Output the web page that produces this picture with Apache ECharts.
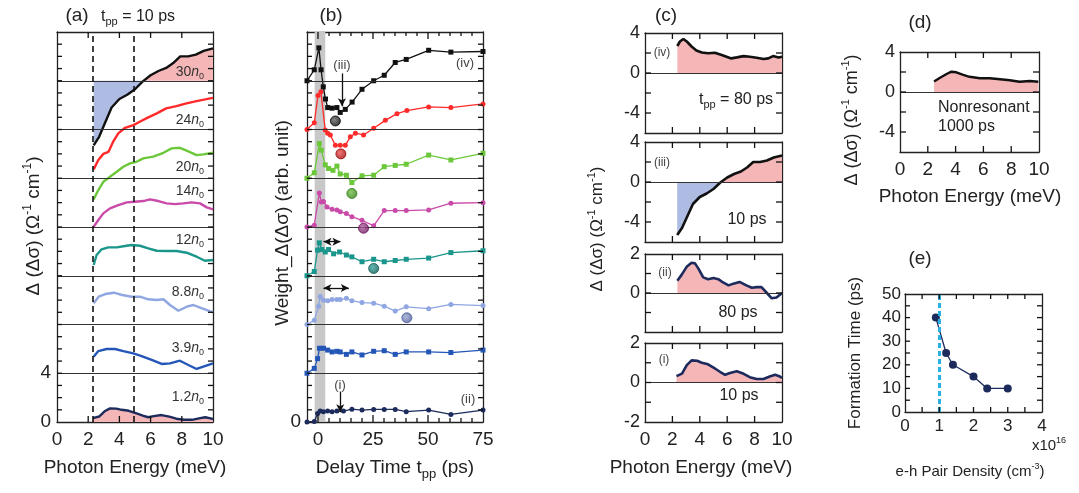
<!DOCTYPE html>
<html><head><meta charset="utf-8">
<script src="https://cdn.jsdelivr.net/npm/echarts@6/dist/echarts.min.js"></script>
<style>html,body{margin:0;padding:0;background:#fff}#c{width:1079px;height:493px}</style>
</head><body><div id="c"></div>
<script>
// ---------- DATA ----------
const spec_30n0_10ps = [[2.35,-5.3],[2.7,-4.6],[3.0,-3.7],[3.5,-2.2],[4.0,-1.5],[4.5,-1.15],[5.0,-0.7],[5.5,-0.05],[6.0,0.45],[6.5,0.8],[7.0,1.05],[7.45,1.45],[7.9,2.0],[8.4,2.0],[8.9,2.15],[9.4,2.45],[10,2.65]];
const spec_24n0_10ps = [[2.35,-3.27],[2.65,-2.5],[2.97,-2.0],[3.3,-1.83],[3.6,-1.0],[3.93,-0.32],[4.36,0.14],[4.9,0.36],[5.3,0.64],[5.85,1.0],[6.4,1.32],[7.0,1.73],[7.65,1.92],[8.3,2.14],[8.95,2.33],[9.5,2.47],[10,2.6]];
const spec_20n0_10ps = [[2.35,-1.73],[2.65,-0.97],[2.97,-0.29],[3.4,0.12],[3.83,0.53],[4.25,0.94],[4.68,1.22],[5.1,1.35],[5.53,1.63],[6.17,1.77],[6.82,2.09],[7.35,2.45],[7.88,2.5],[8.31,2.26],[8.95,1.9],[9.38,1.96],[10,2.09]];
const spec_14n0_10ps = [[2.35,0.02],[2.65,0.57],[2.97,1.12],[3.4,1.53],[3.93,1.8],[4.47,2.02],[5.0,2.07],[5.53,2.13],[5.96,2.27],[6.5,2.13],[7.03,1.94],[7.57,1.88],[8.1,1.94],[8.63,2.02],[9.17,1.94],[9.6,1.61],[10,1.45]];
const spec_12n0_10ps = [[2.35,0.88],[2.54,1.7],[2.86,2.17],[3.29,2.33],[3.83,2.33],[4.36,2.44],[4.79,2.52],[5.32,2.46],[5.85,2.25],[6.39,2.05],[7.03,2.03],[7.67,2.03],[8.31,1.89],[8.95,1.56],[9.48,1.23],[10,1.29]];
const spec_8p8n0_10ps = [[2.35,1.74],[2.67,2.28],[3.1,2.5],[3.64,2.61],[4.18,2.42],[4.79,2.28],[5.32,2.28],[5.85,2.07],[6.39,2.01],[6.82,2.07],[7.24,1.6],[7.78,1.13],[8.31,1.46],[8.74,1.6],[9.17,1.38],[9.7,1.13],[10,1.0]];
const spec_3p9n0_10ps = [[2.35,1.36],[2.65,1.82],[3.18,1.99],[3.72,1.99],[4.25,1.82],[4.89,1.63],[5.42,1.41],[6.07,1.09],[6.71,0.76],[7.24,0.81],[7.88,1.03],[8.42,0.68],[8.95,0.35],[9.38,0.54],[10,0.81]];
const spec_1p2n0_10ps = [[2.3,0.32],[2.7,0.45],[3.05,0.88],[3.4,1.12],[3.8,1.1],[4.15,1.0],[4.6,0.92],[5.1,0.71],[5.5,0.53],[5.85,0.39],[6.2,0.48],[6.7,0.57],[7.2,0.44],[7.65,0.27],[8.15,0.18],[8.65,0.18],[9.1,0.3],[9.5,0.39],[9.85,0.3],[10,0.23]];
const densityLabels = ['1.2','3.9','8.8','12','14','20','24','30'];

const spec_30n0_80ps = [[2.36,2.7],[2.55,3.15],[2.8,3.4],[3.05,3.15],[3.4,2.65],[3.75,2.25],[4.15,2.05],[4.6,1.97],[5.1,2.03],[5.6,1.8],[5.95,1.63],[6.3,1.46],[6.7,1.56],[7.2,1.69],[7.65,1.63],[8.15,1.53],[8.65,1.4],[9.0,1.46],[9.35,1.69],[9.75,1.56],[10,1.63]];
const spec_1p2n0_80ps = [[2.36,0.63],[2.67,0.93],[3.04,1.34],[3.4,1.55],[3.65,1.52],[3.9,1.25],[4.25,0.8],[4.6,0.71],[5.0,0.77],[5.35,0.71],[5.7,0.54],[6.1,0.39],[6.45,0.48],[6.9,0.57],[7.4,0.39],[7.8,0.27],[8.15,0.3],[8.5,0.3],[8.9,0.0],[9.25,-0.27],[9.6,-0.23],[10,0.0]];
const spec_nonres_1000ps = [[2.45,1.05],[2.85,1.4],[3.35,1.8],[3.7,2.03],[4.05,1.97],[4.55,1.72],[5.0,1.52],[5.75,1.38],[6.45,1.38],[7.2,1.28],[7.9,1.17],[8.6,1.03],[9.35,1.1],[9.95,1.03]];

const weight_30n0 = [[-5,0],[-1.7,0.9],[0.4,2.7],[1.4,0.9],[2.4,-0.5],[3.4,-1.5],[4.4,-2.2],[6.4,-2.25],[8.6,-2.2],[10.1,-2.6],[12.4,-2.35],[15.5,-1.75],[20,-0.7],[25.3,0],[30.1,0.45],[35.1,1.5],[40.1,1.75],[50.3,2.5],[60.4,2.35],[75,2.4]];
const weight_24n0 = [[-5,0],[-1.7,0.55],[0,2.8],[1.3,3.1],[3.3,-0.05],[4.4,-0.3],[5.6,-0.45],[7.9,-1.3],[10.1,-1.3],[12.4,-1.3],[14.7,-0.6],[17,-0.3],[20.7,-0.45],[25.3,0.1],[30.6,0.75],[35.9,1.3],[40.4,1.55],[50.3,1.85],[60.4,1.8],[75,2.1]];
const weight_20n0 = [[-5,0],[-1.7,0.45],[0.6,2.85],[1.5,2.3],[3.3,1.1],[4.8,0.8],[6.8,0.65],[8.6,1.0],[10.1,0.35],[12.9,0.25],[15.4,-0.35],[20,0.2],[25.3,0.25],[30.1,0.95],[35.1,1.05],[40.1,1.15],[50.3,1.9],[60.4,1.5],[75,2.05]];
const weight_14n0 = [[-5,0],[-1.7,0.15],[0.6,2.8],[1.5,2.05],[2.5,2.1],[4.1,1.65],[6.4,1.45],[8.6,1.4],[10.1,1.25],[12.9,1.1],[15.4,0.85],[20,0.55],[25.3,0.1],[30.1,1.35],[35.1,1.35],[40.1,1.35],[50.3,1.4],[60.4,1.95],[75,2.0]];
const weight_12n0 = [[-5,0],[-1.7,0.35],[-0.2,2.1],[0.6,2.7],[1.8,2.15],[3.3,1.95],[4.8,2.15],[7.1,1.8],[9.8,1.95],[12.9,1.7],[15.4,1.55],[20,1.15],[25.3,1.35],[30.1,1.15],[35.1,1.25],[40.1,1.35],[50.3,1.45],[60.4,1.9],[75,2.05]];
const weight_8p8n0 = [[-5,0],[-1.7,0.35],[0.3,1.5],[1.0,2.3],[2.5,2.0],[4.4,1.95],[6.4,2.05],[8.6,2.05],[10.1,2.05],[12.9,2.15],[15.4,1.95],[20,1.8],[25.3,1.75],[30.1,1.5],[35.1,1.1],[40.1,1.45],[50.3,1.3],[60.4,1.65],[75,1.55]];
const weight_3p9n0 = [[-5,0],[-1.7,0.4],[-0.2,1.2],[0.7,2.05],[2.5,2.05],[4.4,1.9],[6.4,1.75],[8.6,1.8],[10.1,1.75],[12.9,1.55],[15.4,1.75],[20,1.5],[25.3,1.8],[30.1,1.85],[35.1,1.55],[40.1,1.75],[50.3,1.75],[60.4,1.7],[75,1.9]];
const weight_1p2n0 = [[-5,0],[-1.7,0.05],[-0.2,0.7],[1.0,0.9],[2.5,0.85],[4.4,0.9],[6.4,0.85],[8.6,0.9],[11.6,0.9],[15.4,1.05],[20,0.98],[25.3,1.03],[30.1,1.03],[35.1,1.03],[40.1,0.85],[50.3,0.98],[60.4,0.62],[75,0.98]];
const formationMarks = [[7.9,-3.3],[10.4,-2.0],[15.4,-1.25],[20.7,-0.1],[25.3,0.6],[40.4,0.55]];
const excitationBand = [-1.5, 3.3];

const pairDensity = [0.9, 1.2, 1.4, 2.0, 2.4, 3.0];   // x10^16 cm^-3
const formationTime = [40, 25, 20, 15, 10, 10];        // ps
const mottDensity = 1.0;

// ---------- STYLE / LAYOUT ----------
const FF = "'Liberation Sans', Arial, Helvetica, sans-serif";
const COL = ['#1c2b5c','#2456b8','#8fa6e2','#1b968c','#c94aa8','#6cc83a','#ff2a2a','#111111'];
const BALL_IN = ['#5a6a9a','#5a80d0','#9aa8d0','#3aa8a0','#b060a0','#70c040','#f05050','#666666'];
const BALL_OUT = ['#101a40','#123a80','#4a5a98','#0a5550','#6a1258','#2f7a18','#9a0808','#000000'];
const PINK = '#f5b6b8', BLUEF = '#aebbe3';
const grids = [
  [57,32,156,390],[307,32,176,390],
  [645,33,137,100],[645,142,137,100],[645,254,137,78],[645,343,137,79],
  [900,52,139,100],[905,294,137,118]
];

function signPart(data, sign){
  const out=[];
  for(let i=0;i<data.length;i++){
    const x=data[i][0], y=data[i][1];
    if(i>0){ const x0=data[i-1][0], y0=data[i-1][1];
      if((y0>0&&y<0)||(y0<0&&y>0)){ out.push([x0+(x-x0)*(0-y0)/(y-y0),0]); } }
    out.push([x, sign>0?Math.max(y,0):Math.min(y,0)]);
  }
  return out;
}
function shift(d,off){ return d.map(p=>[p[0],p[1]+off]); }
function steps(a,b,s){ const r=[]; for(let v=a; v<=b+1e-9; v+=s) r.push(Math.round(v*1000)/1000); return r; }

const xAxes=[], yAxes=[], tickSpec=[];
function axes(kind, gi, o){
  const mk=(pos,lab)=>({type:'value',gridIndex:gi,min:o.min,max:o.max,interval:o.interval,position:pos,
    axisLine:{show:true,onZero:false,lineStyle:{color:'#222',width:1.3}},
    axisTick:{show:false},
    splitLine:{show:false},
    axisLabel:lab?{show:!!o.labels,formatter:o.fmt,fontSize:o.fs||19,color:'#222',margin:o.margin||7,fontFamily:FF,showMinLabel:true,showMaxLabel:true}:{show:false}});
  if(kind==='x') xAxes.push(mk('bottom',true),mk('top',false));
  else yAxes.push(mk('left',true),mk('right',false));
  tickSpec[gi]=tickSpec[gi]||{};
  tickSpec[gi][kind]={range:[o.min,o.max],vals:steps(o.min+o.interval,o.max-o.interval,o.interval),len:o.tick||5,long:o.long};
}
axes('x',0,{min:0,max:10,interval:2,labels:true,tick:6,margin:8});
axes('y',0,{min:0,max:32,interval:1,labels:true,tick:5,fmt:v=>(v===0||v===4)?String(v):'',margin:6});
axes('x',1,{min:-5,max:75,interval:5,labels:true,tick:4,long:v=>v%25===0,margin:8,fmt:v=>(v%25===0&&v>=0)?String(v):''});
axes('y',1,{min:0,max:32,interval:1,labels:true,tick:5,fmt:v=>v===0?'0':'',margin:6});
for(let k=0;k<4;k++){
  const gi=2+k;
  axes('x',gi,{min:0,max:10,interval:2,labels:k===3,tick:6,margin:8});
  if(k<2) axes('y',gi,{min:-6,max:4,interval:2,labels:true,fs:18,margin:5,tick:6,fmt:v=>v%4===0?String(v):''});
  else axes('y',gi,{min:-2,max:2,interval:1,labels:true,fs:18,margin:5,tick:6,fmt:v=>(v===2||v===0||(k===3&&v===-2))?String(v):''});
}
axes('x',6,{min:0,max:10,interval:2,labels:true,tick:6,margin:8});
axes('y',6,{min:-6,max:4,interval:2,labels:true,fs:18,margin:5,tick:6,fmt:v=>v%4===0?String(v):''});
axes('x',7,{min:0,max:4,interval:0.5,labels:true,fs:17,tick:5,margin:6,fmt:v=>Number.isInteger(v)?String(v):''});
axes('y',7,{min:0,max:50,interval:5,labels:true,fs:17,tick:5,margin:4,fmt:v=>v%10===0?String(v):''});

const series=[];
function line(gi,data,color,o){ o=o||{};
  return {type:'line',xAxisIndex:2*gi,yAxisIndex:2*gi,data:data,symbol:o.sym||'none',showSymbol:!!o.sym,symbolSize:o.ss||5,
    lineStyle:{color:color,width:o.w||2.4},itemStyle:{color:color},z:o.z||4,silent:true,animation:false};
}
function area(gi,data,color,origin){
  return {type:'line',xAxisIndex:2*gi,yAxisIndex:2*gi,data:data,symbol:'none',showSymbol:false,
    lineStyle:{width:0,opacity:0},areaStyle:{color:color,opacity:1,origin:origin},z:1,silent:true,animation:false};
}
function zeroLine(s){ s.markLine={silent:true,symbol:'none',label:{show:false},lineStyle:{color:'#333',width:1.1,type:'solid'},data:[{yAxis:0}]}; return s; }
const separators=[4,8,12,16,20,24,28].map(v=>({yAxis:v}));
function sepLines(){ return {silent:true,symbol:'none',label:{show:false},lineStyle:{color:'#333',width:1.2,type:'solid'},data:separators}; }

// ---- panel a ----
const specA=[spec_1p2n0_10ps,spec_3p9n0_10ps,spec_8p8n0_10ps,spec_12n0_10ps,spec_14n0_10ps,spec_20n0_10ps,spec_24n0_10ps,spec_30n0_10ps];
const aPink1=area(0,shift(signPart(spec_1p2n0_10ps,1),0),PINK,0);
aPink1.markLine=sepLines();
series.push(aPink1);
series.push(area(0,shift(signPart(spec_30n0_10ps,1),28),PINK,28));
series.push(area(0,shift(signPart(spec_30n0_10ps,-1),28),BLUEF,28));
specA.forEach((d,k)=>series.push(line(0,shift(d,4*k),COL[k],{w:2.4})));
series[series.length-1].markLine={silent:true,symbol:'none',label:{show:false},lineStyle:{color:'#111',width:1.6,type:[6,4]},data:[{xAxis:2.3},{xAxis:4.95}]};

// ---- panel b ----
const weights=[weight_1p2n0,weight_3p9n0,weight_8p8n0,weight_12n0,weight_14n0,weight_20n0,weight_24n0,weight_30n0];
const syms=['circle','rect','circle','rect','circle','rect','circle','rect'];
weights.forEach((d,k)=>series.push(line(1,shift(d,4*k),COL[k],{w:1.3,sym:syms[k],ss:5})));
const bFirst=series[series.length-8];
bFirst.markArea={silent:true,itemStyle:{color:'#c8c8c8'},data:[[{xAxis:excitationBand[0]},{xAxis:excitationBand[1]}]]};
bFirst.markLine=sepLines();
series.push({type:'scatter',xAxisIndex:2,yAxisIndex:2,symbolSize:10,z:5,silent:true,animation:false,
  data:formationMarks.map((p,i)=>{const k=7-i; return {value:[p[0],p[1]+4*k],
    itemStyle:{borderColor:BALL_OUT[k],borderWidth:1,color:{type:'radial',x:0.4,y:0.4,r:0.65,colorStops:[{offset:0,color:BALL_IN[k]},{offset:1,color:BALL_OUT[k]}]}}};})});
series.push({type:'line',xAxisIndex:2,yAxisIndex:2,data:[],silent:true,animation:false,
  markLine:{silent:true,symbol:['none','arrow'],symbolSize:[6,8],label:{show:false},lineStyle:{color:'#111',width:1.3,type:'solid'},
    data:[
      [{coord:[10.9,28.6]},{coord:[10.9,25.9]}],
      [{coord:[10.1,2.5]},{coord:[10.1,0.8]}],
      [{coord:[2.5,14.8],symbol:'arrow'},{coord:[10.2,14.8]}],
      [{coord:[2.5,11.0],symbol:'arrow'},{coord:[14.0,11.0]}]
    ]}});

// ---- panel c ----
const specC=[[spec_30n0_80ps,false],[spec_30n0_10ps,true],[spec_1p2n0_80ps,false],[spec_1p2n0_10ps,false]];
specC.forEach((e,k)=>{
  const gi=2+k;
  series.push(zeroLine(area(gi,signPart(e[0],1),PINK,0)));
  if(e[1]) series.push(area(gi,signPart(e[0],-1),BLUEF,0));
  series.push(line(gi,e[0],k<2?'#111':'#1c2b5c',{w:2.6}));
});
series.push(zeroLine(area(6,signPart(spec_nonres_1000ps,1),PINK,0)));
series.push(line(6,spec_nonres_1000ps,'#111',{w:2.4}));
const eLine=line(7,pairDensity.map((x,i)=>[x,formationTime[i]]),'#1c2b5c',{w:1.3,sym:'circle',ss:8});
eLine.markLine={silent:true,symbol:'none',label:{show:false},lineStyle:{color:'#2ab0e0',width:3,type:[5,3]},data:[{xAxis:mottDensity}]};
series.push(eLine);

// ---------- TEXT ----------
function R(s,c){ const lh=Math.round(s*1.3);
  return {b:{fontSize:s,lineHeight:lh,fontFamily:FF,fill:c,color:c},
    i:{fontSize:s,lineHeight:lh,fontStyle:'italic',fontFamily:FF,fill:c,color:c},
    sup:{fontSize:Math.round(s*0.62),lineHeight:Math.round(s*0.62),verticalAlign:'top',fontFamily:FF,fill:c,color:c},
    sub:{fontSize:Math.round(s*0.66),lineHeight:Math.round(s*0.66),verticalAlign:'bottom',fontFamily:FF,fill:c,color:c}};
}
function T(x,y,str,size,o){ o=o||{}; const c=o.color||'#222';
  return {type:'text',x:x,y:y,rotation:o.rot||0,z:100,silent:true,
    style:{text:str,fontSize:size,fontFamily:FF,fill:c,align:o.align||'center',verticalAlign:'middle',rich:R(size,c)}};
}
const ROT=Math.PI/2;
const sigmaTitle='{b|Δ (Δσ) (Ω}{sup|-1}{b| cm}{sup|-1}{b|)}';
const graphic=[
  T(77,16,'(a)',19), T(101,17,'{b|t}{sub|pp}{b| = 10 ps}',16,{align:'left'}),
  T(331,16,'(b)',19), T(666,16,'(c)',19), T(920,23,'(d)',19), T(920,259,'(e)',19),
  T(135,468,'Photon Energy (meV)',19),
  T(395,468,'{b|Delay Time t}{sub|pp}{b| (ps)}',19),
  T(701,468,'Photon Energy (meV)',19),
  T(970,197,'Photon Energy (meV)',19),
  T(970,472,'{b|e-h Pair Density (cm}{sup|-3}{b|)}',15),
  T(1049,446,'{b|x10}{sup|16}',15),
  T(34,226,sigmaTitle,19,{rot:ROT}),
  T(283,223,'Weight_Δ(Δσ) (arb. unit)',19,{rot:ROT}),
  T(597,229,sigmaTitle,17,{rot:ROT}),
  T(852,120,sigmaTitle,18,{rot:ROT}),
  T(855,353,'Formation Time (ps)',17,{rot:ROT}),
  T(342,65,'(iii)',13,{color:'#444'}), T(465,63,'(iv)',13,{color:'#444'}),
  T(340,385,'(i)',13,{color:'#444'}), T(468,399,'(ii)',13,{color:'#444'}),
  T(662,53,'(iv)',12,{color:'#444'}), T(736,100,'{b|t}{sub|pp}{b| = 80 ps}',16),
  T(662,163,'(iii)',12,{color:'#444'}), T(747,220,'10 ps',16),
  T(665,273,'(ii)',12,{color:'#444'}), T(738,313,'80 ps',16),
  T(664,360,'(i)',12,{color:'#444'}), T(739,396,'10 ps',16),
  T(938,108,'Nonresonant',16,{align:'left'}), T(938,127,'1000 ps',16,{align:'left'})
];
const labelY=[397,348,292,240,191,167,120,72];
densityLabels.forEach((s,k)=>graphic.push(T(204,labelY[k],'{b|'+s+'}{i|n}{sub|0}',14,{align:'right',color:'#333'})));

const chart=echarts.init(document.getElementById('c'));
chart.setOption({
  animation:false,
  grid:grids.map(g=>({left:g[0],top:g[1],width:g[2],height:g[3]})),
  xAxis:xAxes, yAxis:yAxes, series:series, graphic:graphic
});

// ---- inward ticks on all four sides, positioned through each grid's own axes ----
const tickEls=[];
function seg(x1,y1,x2,y2){ return {type:'line',z:110,silent:true,shape:{x1:x1,y1:y1,x2:x2,y2:y2},style:{stroke:'#111',lineWidth:1.3}}; }
tickSpec.forEach((ts,gi)=>{
  const finder={xAxisIndex:2*gi,yAxisIndex:2*gi};
  const xr=ts.x.range, yr=ts.y.range;
  ts.x.vals.forEach(v=>{
    const L=(ts.x.long&&ts.x.long(v))?ts.x.len+3:ts.x.len;
    const pb=chart.convertToPixel(finder,[v,yr[0]]), pt=chart.convertToPixel(finder,[v,yr[1]]);
    if(!pb||!pt) return;
    tickEls.push(seg(pb[0],pb[1],pb[0],pb[1]-L), seg(pt[0],pt[1],pt[0],pt[1]+L));
  });
  ts.y.vals.forEach(v=>{
    const L=ts.y.len;
    const pl=chart.convertToPixel(finder,[xr[0],v]), pr=chart.convertToPixel(finder,[xr[1],v]);
    if(!pl||!pr) return;
    tickEls.push(seg(pl[0],pl[1],pl[0]+L,pl[1]), seg(pr[0],pr[1],pr[0]-L,pr[1]));
  });
});
chart.setOption({graphic:graphic.concat(tickEls)});
</script></body></html>
